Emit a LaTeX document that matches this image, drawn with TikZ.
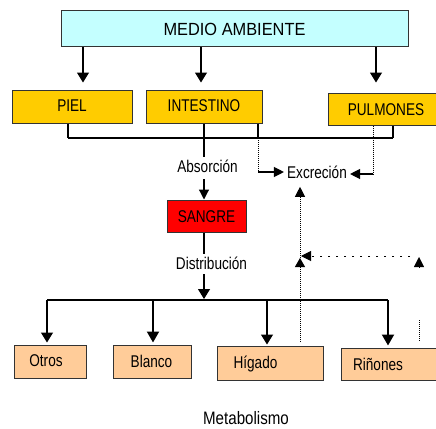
\documentclass[tikz,border=0pt]{standalone}
\usepackage{fontspec}
\setmainfont{Liberation Sans}
\newfontfamily\condA[FakeStretch=0.8]{Liberation Sans}
\newfontfamily\condB[FakeStretch=0.93]{Liberation Sans}
\newfontfamily\condC[FakeStretch=0.84]{Liberation Sans}
\usetikzlibrary{arrows.meta}
\definecolor{cyanfill}{HTML}{C4FFFF}
\definecolor{orfill}{HTML}{FFCC00}
\definecolor{redfill}{HTML}{FF0000}
\definecolor{peach}{HTML}{FFCC99}
\begin{document}
\begin{tikzpicture}[x=1pt,y=-1pt,
  txt/.style={font=\condA\fontsize{17}{19}\selectfont, inner sep=0pt, text height=12.2pt, text depth=0pt},
  box/.style={draw=black!80, line width=1pt, txt},
  ln/.style={line width=1.2pt, draw=black},
  thk/.style={line width=2pt, draw=black},
  arr/.style={ln, -{Triangle[width=12pt,length=10pt]}},
  arrk/.style={thk, -{Triangle[width=12pt,length=11pt]}},
  arrs/.style={ln, -{Triangle[width=10pt,length=10pt]}},
  dl/.style={line width=1pt, densely dotted},
  sparse/.style={line width=1pt, dash pattern=on 2pt off 6pt}]
\clip (0,0) rectangle (436,428);
\fill[white] (0,0) rectangle (436,428);
% boxes
\node[box, fill=cyanfill, minimum width=347pt, minimum height=36pt, font=\condB\fontsize{17.6}{19}\selectfont, text height=12.6pt] (medio) at (234.5,29) {MEDIO AMBIENTE};
\node[box, fill=orfill, minimum width=120pt, minimum height=33pt] (piel) at (72,106.5) {\raisebox{1.5pt}{PIEL}};
\node[box, fill=orfill, minimum width=116pt, minimum height=33pt] (intestino) at (204,106.5) {\raisebox{1.5pt}{INTESTINO}};
\node[box, fill=orfill, minimum width=116pt, minimum height=32pt] (pulmones) at (386,109) {PULMONES};
\node[box, fill=redfill, minimum width=79pt, minimum height=32pt] (sangre) at (206.5,216) {SANGRE};
\node[box, fill=peach, minimum width=72pt, minimum height=33pt] (otros) at (50,361.5) {};
\node[box, fill=peach, minimum width=78pt, minimum height=33pt] (blanco) at (152,361.5) {};
\node[box, fill=peach, minimum width=106pt, minimum height=34pt] (higado) at (270,363) {};
\node[box, fill=peach, minimum width=103pt, minimum height=32pt] (rinones) at (392.5,364) {};
\node[txt] (totros) at (46,360.5) {Otros};
\node[txt] (tblanco) at (151.5,361) {Blanco};
\node[txt] (thigado) at (255.5,362.5) {Hígado};
\node[txt] (trinones) at (378,364) {Riñones};
% labels
\node[txt, inner ysep=3pt] (absorcion) at (207.5,166) {Absorción};
\node[txt, inner ysep=3pt] (distribucion) at (211.5,263) {Distribución};
\node[txt, inner xsep=3pt, inner ysep=3pt] (excrecion) at (317,172.5) {Excreción};
\node[txt, font=\condC\fontsize{18}{20}\selectfont, text height=12.9pt] (metab) at (246,418.5) {Metabolismo};
% arrows from medio ambiente
\draw[arr, shorten >=7pt] (medio.south -| 83,0) -- (piel.north -| 83,0);
\draw[arr, shorten >=7pt] (medio.south -| 201,0) -- (intestino.north -| 201,0);
\draw[arr, shorten >=10pt] (medio.south -| 376,0) -- (pulmones.north -| 376,0);
% collector line
\coordinate (j1) at (68,138);
\coordinate (j2) at (393,138);
\coordinate (j3) at (258,138);
\coordinate (k1) at (258,172);
\coordinate (k2) at (373,174);
\draw[ln] (piel.south -| j1) -- (j1);
\draw[ln] (pulmones.south -| j2) -- (j2);
\draw[thk] (j1) -- (j2);
\draw[ln] (intestino.south -| j3) -- (j3);
\draw[ln] (intestino.south -| 204,0) -- (absorcion.north -| 204,0);
\draw[arrs] ([yshift=-4pt]absorcion.south -| 204,0) -- (sangre.north -| 204,0);
% excretion
\draw[dl] (j3) -- (k1);
\draw[arrs] (k1) -- (excrecion.west |- k1);
\draw[dl] (pulmones.south -| k2) -- (k2);
\draw[arrs] (k2) -- (excrecion.east |- k2);
% distribution
\coordinate (d0) at (204,300);
\coordinate (d1) at (47,300);
\coordinate (d2) at (153,300);
\coordinate (d3) at (267,300);
\coordinate (d4) at (388,300);
\draw[ln] (sangre.south -| d0) -- (distribucion.north -| d0);
\draw[arr, shorten >=1pt] ([yshift=-2pt]distribucion.south -| d0) -- (d0);
\draw[thk] (d1) -- (d4);
\draw[arr, shorten >=2pt] (d1) -- (otros.north -| d1);
\draw[arrk, shorten >=2pt] (d2) -- (blanco.north -| d2);
\draw[arr, shorten >=1pt] (d3) -- (higado.north -| d3);
\draw[arrk, shorten >=2pt] (d4) -- (rinones.north -| d4);
% dotted feedback
\coordinate (f0) at (300,342);
\coordinate (f1) at (300,258);
\coordinate (f2) at (410,256);
\coordinate (f3) at (301,256);
\coordinate (g0) at (419,268);
\coordinate (g1) at (419,257);
\coordinate (h0) at (419,320);
\coordinate (h1) at (419,342);
\draw[dl, -{Triangle[width=10pt,length=9pt]}] (f0) -- (f1);
\draw[dl, -{Triangle[width=10pt,length=10pt]}] (f1) -- ([yshift=-5pt]excrecion.south -| f1);
\draw[sparse, -{Triangle[width=10pt,length=10pt]}] (f2) -- (f3);
\draw[line width=0.5pt, -{Triangle[width=10pt,length=10pt]}] (g0) -- (g1);
\draw[dl] (h0) -- (h1);
\end{tikzpicture}
\end{document}
